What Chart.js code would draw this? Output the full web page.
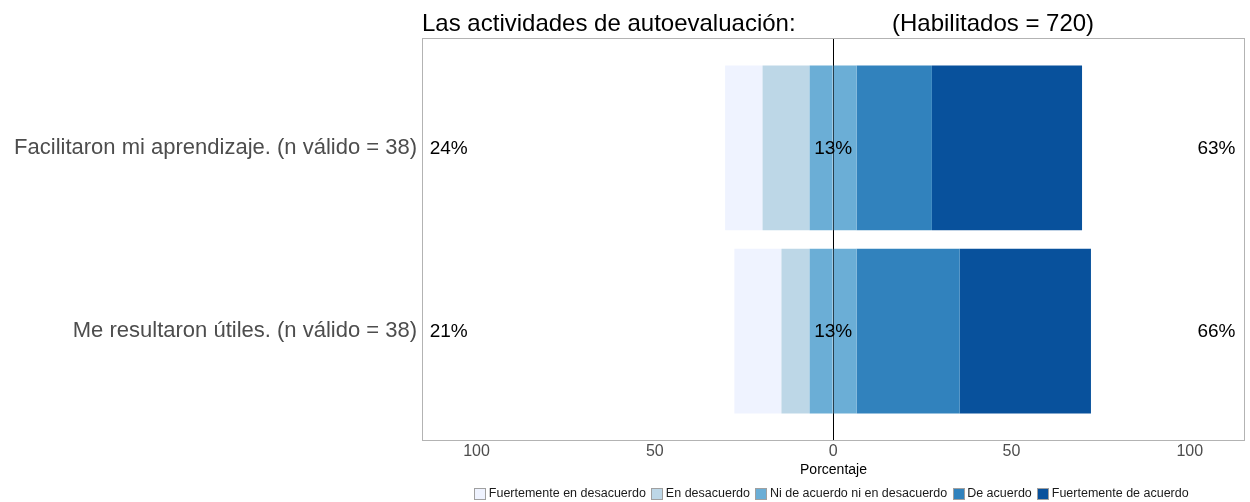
<!DOCTYPE html>
<html><head><meta charset="utf-8">
<script src="https://cdn.jsdelivr.net/npm/chart.js@4"></script>
<style>html,body{margin:0;padding:0;background:#fff}</style>
</head><body>
<canvas id="c" width="1250" height="502"></canvas>
<script>
// ---- data ----
const categories = ['Facilitaron mi aprendizaje. (n válido = 38)', 'Me resultaron útiles. (n válido = 38)'];
const levels = ['Fuertemente en desacuerdo', 'En desacuerdo', 'Ni de acuerdo ni en desacuerdo', 'De acuerdo', 'Fuertemente de acuerdo'];
const fuertementeEnDesacuerdo = [10.5, 13.2];
const enDesacuerdo = [13.2, 7.9];
const niDeAcuerdo = [13.2, 13.2];
const deAcuerdo = [21.1, 28.9];
const fuertementeDeAcuerdo = [42.1, 36.8];
const xTickValues = [-100, -50, 0, 50, 100];
const titleText = 'Las actividades de autoevaluación:';
const subtitleText = '(Habilitados = 720)';
const axisTitle = 'Porcentaje';

// ---- styles ----
const FONT = '"Liberation Sans", Arial, Helvetica, sans-serif';
const levelColors = ['#EFF3FF', '#BDD7E7', '#6BAED6', '#3182BD', '#08519C'];
const positions = categories.map((c, i) => i + 1);

function makeSet(label, color, vals, sign) {
  return {
    label: label,
    backgroundColor: color,
    borderWidth: 0,
    categoryPercentage: 1,
    barPercentage: 0.9,
    data: vals.map((v, i) => ({ x: sign * v, y: positions[i] }))
  };
}

const datasets = [
  makeSet(levels[2], levelColors[2], niDeAcuerdo.map(v => v / 2), -1),
  makeSet(levels[2], levelColors[2], niDeAcuerdo.map(v => v / 2), 1),
  makeSet(levels[1], levelColors[1], enDesacuerdo, -1),
  makeSet(levels[3], levelColors[3], deAcuerdo, 1),
  makeSet(levels[0], levelColors[0], fuertementeEnDesacuerdo, -1),
  makeSet(levels[4], levelColors[4], fuertementeDeAcuerdo, 1)
];

const decor = {
  id: 'decor',
  afterDatasetsDraw(chart) {
    const { ctx, chartArea: a, scales: { x, y } } = chart;
    ctx.save();
    // panel border
    ctx.strokeStyle = '#b3b3b3';
    ctx.lineWidth = 1;
    ctx.strokeRect(Math.round(a.left) + 0.5, Math.round(a.top) + 0.5,
                   Math.round(a.right - a.left) - 1, Math.round(a.bottom - a.top) - 1);
    // percentage labels
    ctx.font = '19px ' + FONT;
    ctx.fillStyle = '#000';
    ctx.textBaseline = 'middle';
    ctx.textAlign = 'center';
    categories.forEach((c, i) => {
      const yy = y.getPixelForValue(positions[i]) + 1;
      const low = fuertementeEnDesacuerdo[i] + enDesacuerdo[i];
      const high = deAcuerdo[i] + fuertementeDeAcuerdo[i];
      ctx.fillText(Math.round(low) + '%', x.getPixelForValue(-107.8), yy);
      ctx.fillText(Math.round(niDeAcuerdo[i]) + '%', x.getPixelForValue(0), yy);
      ctx.fillText(Math.round(high) + '%', x.getPixelForValue(107.5), yy);
    });
    ctx.restore();
  },
  afterDraw(chart) {
    const { ctx, chartArea: a } = chart;
    ctx.save();
    // title
    ctx.font = '24px ' + FONT;
    ctx.fillStyle = '#000';
    ctx.textBaseline = 'alphabetic';
    ctx.textAlign = 'left';
    ctx.fillText(titleText, a.left, 30.5);
    ctx.fillText(subtitleText, 892, 30.5);
    // legend
    ctx.font = '12.5px ' + FONT;
    const box = 12, gapText = 2.5, gapItem = 5.5;
    const widths = levels.map(l => ctx.measureText(l).width);
    const total = widths.reduce((s, w) => s + box + gapText + w, 0) + gapItem * (levels.length - 1);
    let cx = (a.left + a.right) / 2 - 2 - total / 2;
    const by = 488;
    ctx.textBaseline = 'middle';
    levels.forEach((l, i) => {
      const bx = Math.round(cx);
      ctx.fillStyle = levelColors[i];
      ctx.fillRect(bx, by, box, box);
      ctx.strokeStyle = '#a0a0a0';
      ctx.lineWidth = 1;
      ctx.strokeRect(bx + 0.5, by + 0.5, box - 1, box - 1);
      ctx.fillStyle = '#1a1a1a';
      ctx.fillText(l, cx + box + gapText, by + box / 2);
      cx += box + gapText + widths[i] + gapItem;
    });
    ctx.restore();
  }
};

new Chart(document.getElementById('c'), {
  type: 'bar',
  data: { datasets: datasets },
  plugins: [decor],
  options: {
    indexAxis: 'y',
    responsive: false,
    animation: false,
    devicePixelRatio: 1,
    layout: { padding: { top: 38, right: 5, left: 0, bottom: 0 } },
    plugins: { legend: { display: false }, tooltip: { enabled: false }, title: { display: false } },
    scales: {
      x: {
        type: 'linear', min: -115.3, max: 115.5, stacked: true, offset: false,
        afterBuildTicks: s => { s.ticks = xTickValues.map(v => ({ value: v })); },
        afterFit: s => { s.height = 61; },
        grid: {
          drawTicks: false, lineWidth: 1, offset: false,
          color: c => (c.tick && c.tick.value === 0) ? '#000' : 'rgba(0,0,0,0)'
        },
        border: { display: false },
        ticks: {
          callback: v => String(Math.abs(v)),
          font: { size: 16, family: FONT }, color: '#4d4d4d', padding: 1,
          maxRotation: 0, autoSkip: false
        },
        title: { display: true, text: axisTitle, font: { size: 14, family: FONT }, color: '#000', padding: { top: 0, bottom: 23 } }
      },
      y: {
        type: 'linear', min: 0.4, max: 2.6, reverse: true, stacked: true, offset: false,
        afterBuildTicks: s => { s.ticks = positions.map(v => ({ value: v })); },
        afterFit: s => { s.width = 422; },
        grid: { display: false, drawTicks: false, offset: false },
        border: { display: false },
        ticks: {
          callback: v => categories[Math.round(v) - 1] || '',
          font: { size: 22, family: FONT }, color: '#4d4d4d', padding: 5, autoSkip: false
        }
      }
    }
  }
});
</script>
</body></html>
